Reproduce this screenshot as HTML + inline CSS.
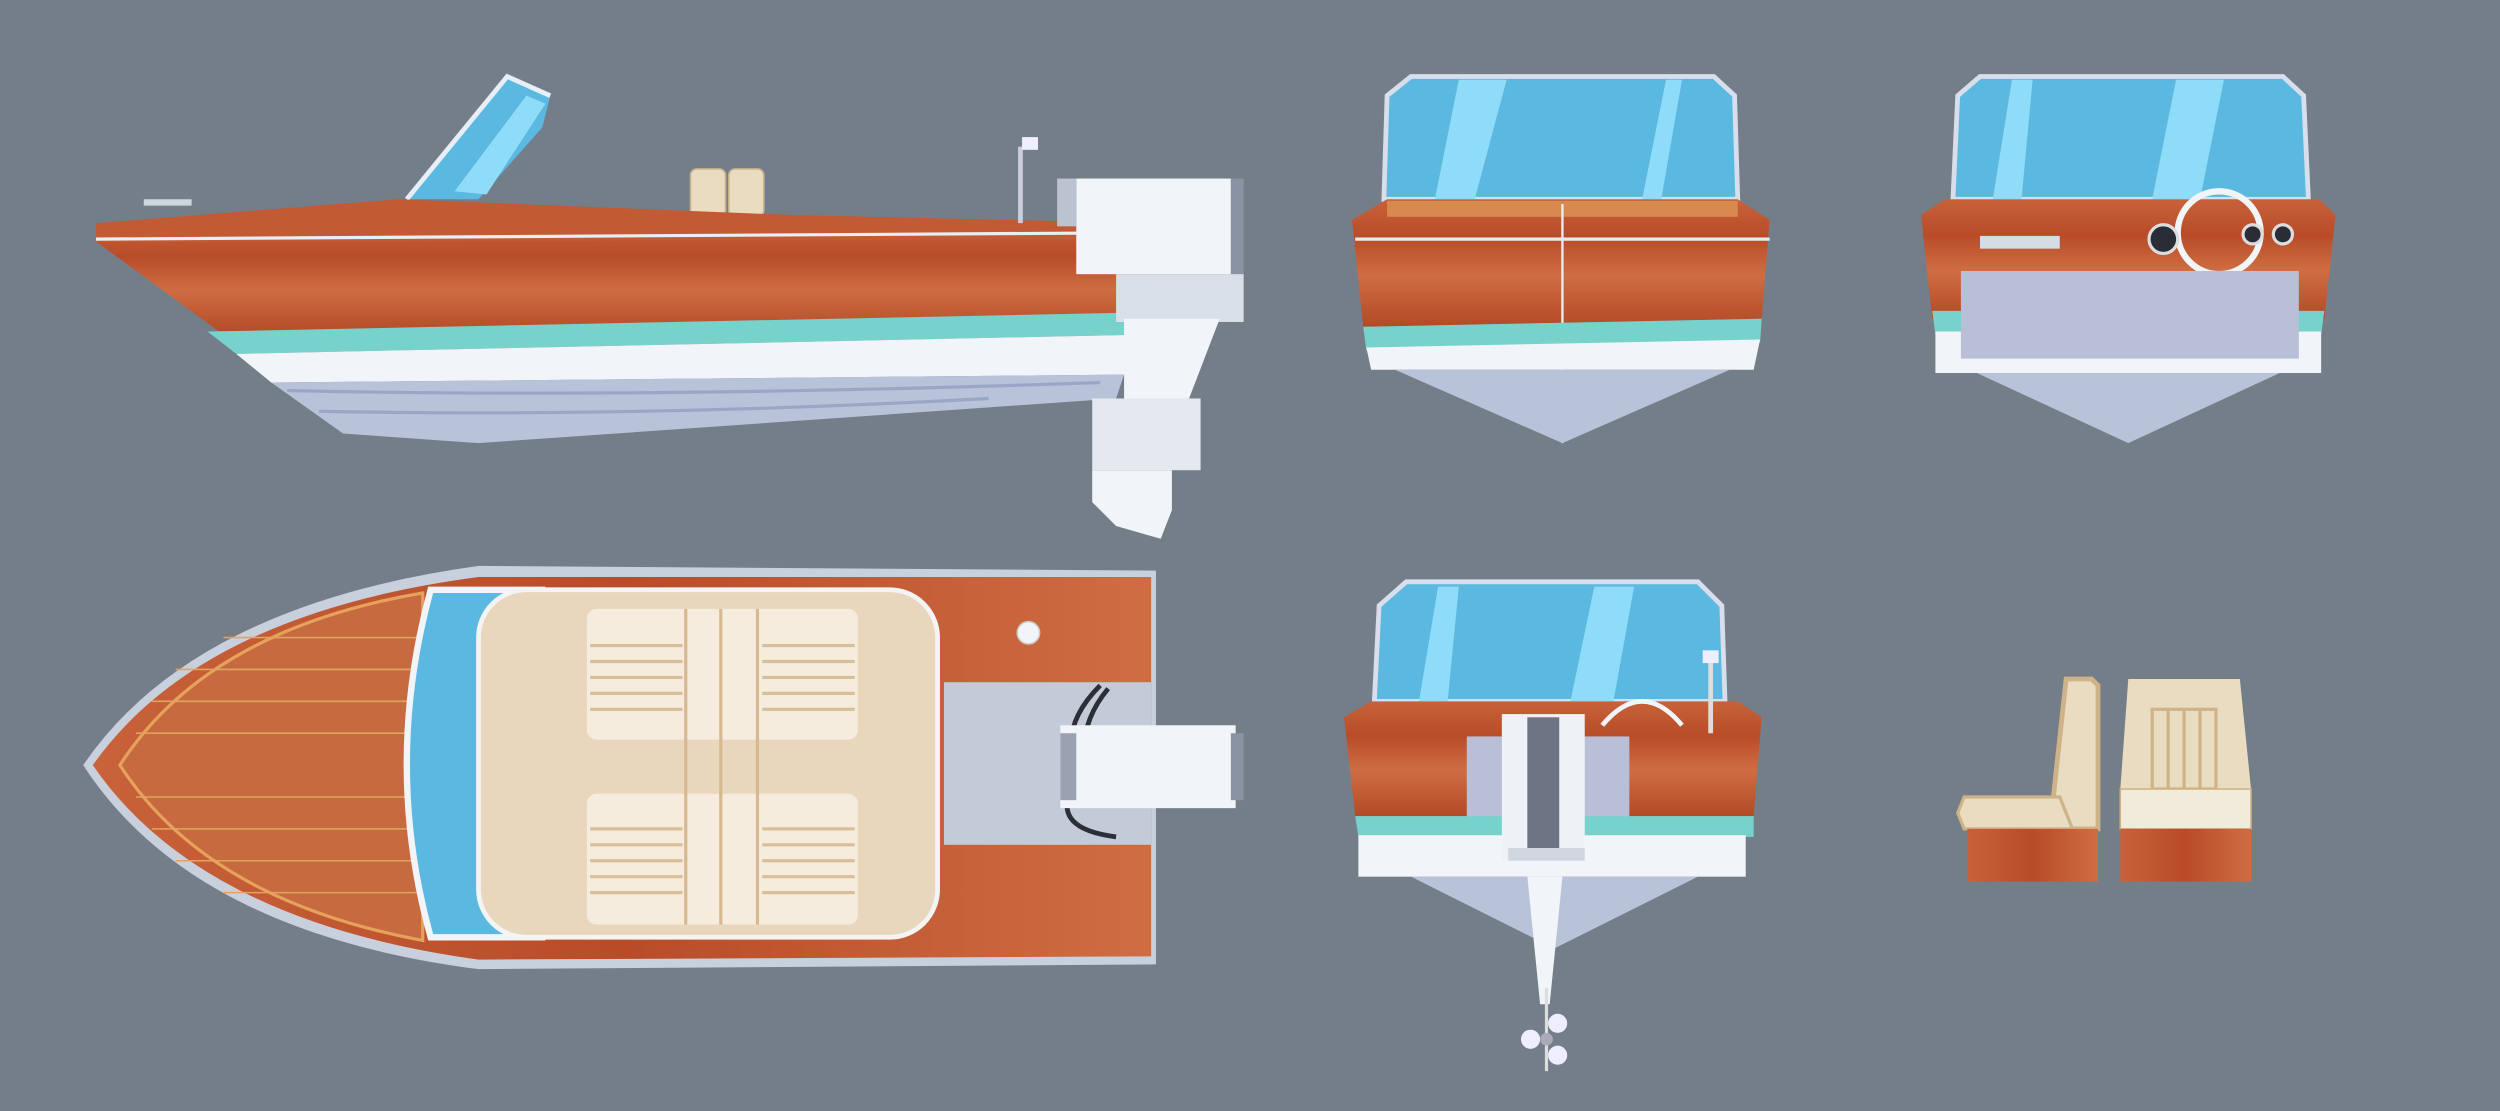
<!DOCTYPE html>
<html><head><meta charset="utf-8"><style>
html,body{margin:0;padding:0;background:#747e89;}
svg{display:block}
</style></head><body>
<svg width="2500" height="1111" viewBox="0 0 1568 697" xmlns="http://www.w3.org/2000/svg">
<defs>
<linearGradient id="wood" x1="0" y1="0" x2="0" y2="1">
<stop offset="0" stop-color="#c8623a"/><stop offset=".3" stop-color="#b84c28"/><stop offset=".6" stop-color="#cf6d42"/><stop offset="1" stop-color="#b34a26"/>
</linearGradient>
<linearGradient id="woodh" x1="0" y1="0" x2="1" y2="0">
<stop offset="0" stop-color="#c8623a"/><stop offset=".5" stop-color="#b84c28"/><stop offset="1" stop-color="#cf6d42"/>
</linearGradient>
</defs>
<rect width="1568" height="697" fill="#747e89"/>

<!-- SIDE VIEW -->
<polygon points="255,125 318,48 345,60 340,80 300,125" fill="#5bb8e0"/>
<polygon points="285,120 330,60 342,65 305,122" fill="#8fdcf8"/>
<polyline points="255,125 318,48 345,60" fill="none" stroke="#e8eef6" stroke-width="3"/>
<rect x="433" y="106" width="22" height="30" rx="4" fill="#eadcc0" stroke="#c9b48a"/>
<rect x="457" y="106" width="22" height="30" rx="4" fill="#eadcc0" stroke="#c9b48a"/>
<polygon points="58,150 722,140 716,200 140,210" fill="url(#wood)"/>
<polygon points="60,140 250,125 500,135 722,140 722,150 60,152" fill="#c25a33"/>
<line x1="60" y1="150" x2="722" y2="146" stroke="#e8eef6" stroke-width="2"/>
<polygon points="130,208 716,196 714,210 148,222" fill="#78d2cc"/>
<polygon points="148,222 714,210 705,235 170,240" fill="#f1f4f8"/>
<polygon points="170,240 705,235 700,250 300,278 215,272" fill="#b8c3d9"/>
<path d="M180,245 Q400,250 690,240 M200,258 Q400,262 620,250" stroke="#9aa6c6" stroke-width="2" fill="none"/>
<line x1="640" y1="92" x2="640" y2="140" stroke="#ccd" stroke-width="3"/>
<rect x="641" y="86" width="10" height="8" fill="#eef"/>
<rect x="675" y="112" width="97" height="60" fill="#f1f4f8"/>
<rect x="663" y="112" width="12" height="30" fill="#bcc3d0"/>
<rect x="772" y="112" width="8" height="90" fill="#8a93a3"/>
<rect x="700" y="172" width="80" height="30" fill="#d9dfe8"/>
<polygon points="705,200 765,200 740,265 705,265" fill="#f1f4f8"/>
<rect x="685" y="250" width="68" height="45" fill="#e4e9ef"/>
<polygon points="685,295 735,295 735,320 728,338 700,330 685,315" fill="#f1f4f8"/>
<rect x="90" y="125" width="30" height="4" fill="#cfd6e0"/>

<!-- TOP VIEW -->
<path d="M52,480 Q120,380 300,355 L725,358 L725,605 L300,608 Q120,585 52,480 Z" fill="#c9d0dd"/>
<path d="M58,480 Q125,385 300,362 L722,362 L722,600 L300,602 Q125,578 58,480 Z" fill="url(#woodh)"/>
<path d="M75,480 Q130,395 265,372 L265,590 Q130,565 75,480 Z" fill="#c86a40" stroke="#e6a25c" stroke-width="2"/>
<g stroke="#e3a360" stroke-width="1">
<line x1="110" y1="420" x2="265" y2="420"/><line x1="95" y1="440" x2="265" y2="440"/><line x1="85" y1="460" x2="265" y2="460"/><line x1="85" y1="500" x2="265" y2="500"/><line x1="95" y1="520" x2="265" y2="520"/><line x1="110" y1="540" x2="265" y2="540"/><line x1="140" y1="400" x2="265" y2="400"/><line x1="140" y1="560" x2="265" y2="560"/>
</g>
<path d="M270,370 L340,370 L340,588 L270,588 Q240,480 270,370 Z" fill="#5bb8e0" stroke="#f1f4f8" stroke-width="4"/>
<rect x="300" y="370" width="288" height="218" rx="30" fill="#e8d7bd" stroke="#f4f4f4" stroke-width="3"/>
<rect x="368" y="382" width="170" height="82" rx="6" fill="#f6ecdd"/>
<rect x="368" y="498" width="170" height="82" rx="6" fill="#f6ecdd"/>
<g stroke="#d6b991" stroke-width="2"><line x1="430" y1="382" x2="430" y2="580"/><line x1="452" y1="382" x2="452" y2="580"/><line x1="475" y1="382" x2="475" y2="580"/></g>
<g stroke="#d9bf99" stroke-width="2">
<line x1="370" y1="405" x2="428" y2="405"/><line x1="370" y1="415" x2="428" y2="415"/><line x1="370" y1="425" x2="428" y2="425"/><line x1="370" y1="435" x2="428" y2="435"/><line x1="370" y1="445" x2="428" y2="445"/>
<line x1="478" y1="405" x2="536" y2="405"/><line x1="478" y1="415" x2="536" y2="415"/><line x1="478" y1="425" x2="536" y2="425"/><line x1="478" y1="435" x2="536" y2="435"/><line x1="478" y1="445" x2="536" y2="445"/>
<line x1="370" y1="520" x2="428" y2="520"/><line x1="370" y1="530" x2="428" y2="530"/><line x1="370" y1="540" x2="428" y2="540"/><line x1="370" y1="550" x2="428" y2="550"/><line x1="370" y1="560" x2="428" y2="560"/>
<line x1="478" y1="520" x2="536" y2="520"/><line x1="478" y1="530" x2="536" y2="530"/><line x1="478" y1="540" x2="536" y2="540"/><line x1="478" y1="550" x2="536" y2="550"/><line x1="478" y1="560" x2="536" y2="560"/>
</g>
<rect x="592" y="428" width="130" height="102" fill="#c3cbd9"/>
<path d="M690,430 Q670,450 672,470 M695,432 Q680,450 680,470 M672,495 Q660,520 700,525" stroke="#2c2f38" stroke-width="3" fill="none"/>
<circle cx="645" cy="397" r="7" fill="#f1f4f8" stroke="#ccc"/>
<rect x="665" y="455" width="110" height="52" fill="#f1f4f8"/>
<rect x="665" y="460" width="10" height="42" fill="#9aa2b2"/>
<rect x="772" y="460" width="8" height="42" fill="#8a93a3"/>

<!-- FRONT VIEW (bow) -->
<path d="M870,60 L885,48 L1075,48 L1088,60 L1090,125 L868,125 Z" fill="#5bb8e0" stroke="#d8dfea" stroke-width="3"/>
<polygon points="900,125 915,50 945,50 925,125" fill="#8fdcf8"/>
<polygon points="1030,125 1045,50 1055,50 1042,125" fill="#8fdcf8"/>
<polygon points="848,138 870,125 1090,125 1110,138 1105,200 855,205" fill="url(#wood)"/>
<rect x="870" y="126" width="220" height="10" fill="#d88a4e"/>
<line x1="850" y1="150" x2="1110" y2="150" stroke="#e6ebf2" stroke-width="2"/>
<line x1="980" y1="128" x2="980" y2="278" stroke="#e6ebf2" stroke-width="1.5"/>
<polygon points="855,205 1105,200 1104,215 857,220" fill="#78d2cc"/>
<polygon points="857,218 1104,213 1100,232 860,232" fill="#f1f4f8"/>
<polygon points="875,232 1085,232 980,278" fill="#b8c3d9"/>

<!-- STERN VIEW (right top) -->
<path d="M1228,60 L1242,48 L1432,48 L1445,60 L1448,125 L1225,125 Z" fill="#5bb8e0" stroke="#d8dfea" stroke-width="3"/>
<polygon points="1250,125 1262,50 1275,50 1268,125" fill="#8fdcf8"/>
<polygon points="1350,125 1365,50 1395,50 1380,125" fill="#8fdcf8"/>
<polygon points="1205,135 1220,125 1455,125 1465,135 1458,200 1212,200" fill="url(#wood)"/>
<rect x="1242" y="148" width="50" height="8" fill="#d6dce6"/>
<circle cx="1392" cy="146" r="26" fill="none" stroke="#f1f4f8" stroke-width="4"/>
<circle cx="1357" cy="150" r="9" fill="#2a2d35" stroke="#ddd" stroke-width="2"/>
<circle cx="1413" cy="147" r="6" fill="#2a2d35" stroke="#ddd" stroke-width="2"/>
<circle cx="1432" cy="147" r="6" fill="#2a2d35" stroke="#ddd" stroke-width="2"/>
<polygon points="1212,195 1458,195 1456,210 1214,210" fill="#78d2cc"/>
<rect x="1214" y="208" width="242" height="26" fill="#f1f4f8"/>
<rect x="1230" y="170" width="212" height="55" fill="#b8bfd6"/>
<polygon points="1240,234 1430,234 1335,278" fill="#b8c3d9"/>

<!-- BACK VIEW (middle bottom) -->
<path d="M865,380 L882,365 L1065,365 L1080,380 L1082,440 L862,440 Z" fill="#5bb8e0" stroke="#d8dfea" stroke-width="3"/>
<polygon points="890,440 902,368 915,368 908,440" fill="#8fdcf8"/>
<polygon points="985,440 1000,368 1025,368 1012,440" fill="#8fdcf8"/>
<polygon points="843,450 860,440 1090,440 1105,450 1100,512 850,512" fill="url(#wood)"/>
<path d="M1005,455 Q1030,425 1055,455" stroke="#f1f4f8" stroke-width="3" fill="none"/>
<line x1="1073" y1="415" x2="1073" y2="460" stroke="#ddd" stroke-width="3"/>
<rect x="1068" y="408" width="10" height="8" fill="#eef"/>
<rect x="920" y="462" width="102" height="60" fill="#b8bfd6"/>
<polygon points="850,512 1100,512 1100,525 852,525" fill="#78d2cc"/>
<rect x="852" y="524" width="243" height="26" fill="#f1f4f8"/>
<polygon points="885,550 1065,550 975,595" fill="#b8c3d9"/>
<rect x="942" y="448" width="52" height="92" fill="#eef1f6"/>
<rect x="958" y="450" width="20" height="88" fill="#6e7483"/>
<rect x="946" y="532" width="48" height="8" fill="#cfd6e0"/>
<polygon points="958,550 980,550 972,630 966,630" fill="#f1f4f8"/>
<line x1="970" y1="620" x2="970" y2="672" stroke="#ddd" stroke-width="2"/>
<circle cx="960" cy="652" r="6" fill="#eef"/><circle cx="977" cy="642" r="6" fill="#eef"/><circle cx="977" cy="662" r="6" fill="#eef"/><circle cx="970" cy="652" r="4" fill="#aab"/>

<!-- SEATS -->
<path d="M1296,426 L1312,426 L1316,430 L1316,520 L1298,520 L1288,500 Z" fill="#eadcc0" stroke="#cdb387" stroke-width="3"/>
<polygon points="1232,500 1292,500 1300,520 1232,520 1228,510" fill="#eadcc0" stroke="#cdb387" stroke-width="2"/>
<rect x="1234" y="520" width="82" height="33" fill="url(#woodh)"/>
<path d="M1335,426 L1405,426 L1412,495 L1330,495 Z" fill="#eadcc0"/>
<g stroke="#cdb387" stroke-width="2" fill="none"><rect x="1350" y="445" width="40" height="50"/><line x1="1360" y1="445" x2="1360" y2="495"/><line x1="1370" y1="445" x2="1370" y2="495"/><line x1="1380" y1="445" x2="1380" y2="495"/></g>
<rect x="1330" y="495" width="82" height="25" fill="#f1ebdc" stroke="#cdb387"/>
<rect x="1330" y="520" width="82" height="33" fill="url(#woodh)"/>
</svg>
</body></html>
